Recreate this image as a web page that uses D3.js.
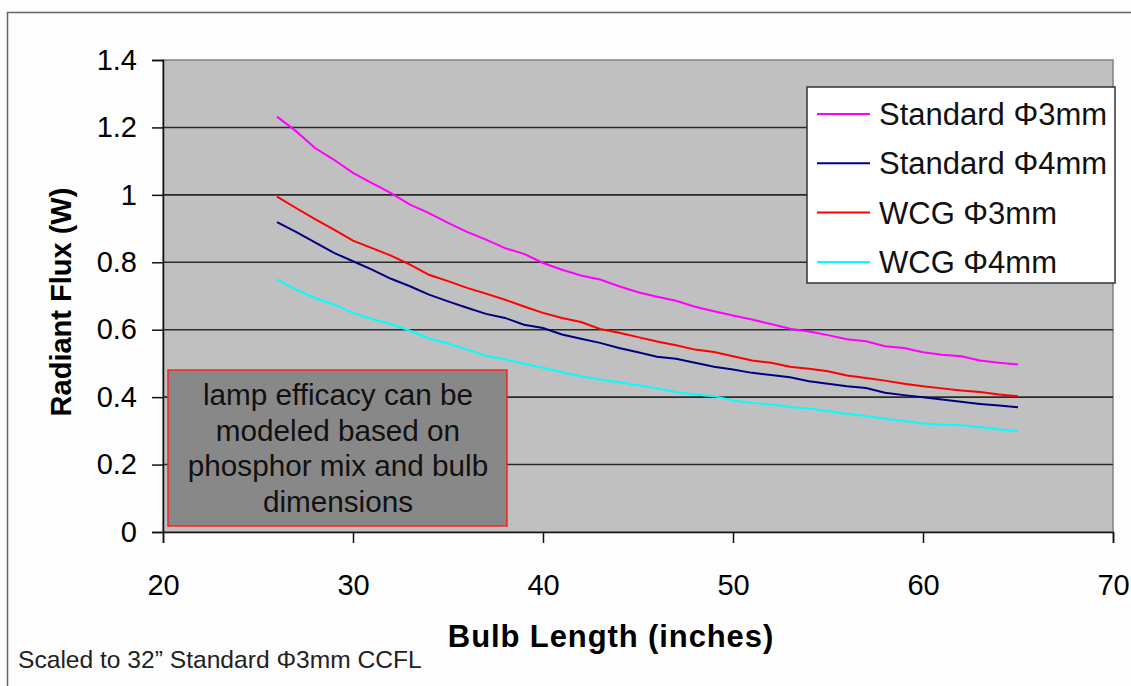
<!DOCTYPE html>
<html>
<head>
<meta charset="utf-8">
<script src="https://cdn.jsdelivr.net/npm/d3@7"></script>
<style>
  body { margin: 0; background: #fdfdfd; }
  svg { display: block; font-family: "Liberation Sans", Arial, sans-serif; }
</style>
</head>
<body>
<div id="flux_chart"></div>
<script>
// bulb lengths (inches) and radiant flux (W) for each lamp type
var lengths = [26,27,28,29,30,31,32,33,34,35,36,37,38,39,40,41,42,43,44,45,
               46,47,48,49,50,51,52,53,54,55,56,57,58,59,60,61,62,63,64,65];
var std3mm = [1.232,1.189,1.139,1.104,1.065,1.035,1.005,0.971,0.946,0.917,0.890,0.867,0.842,0.825,0.798,0.778,0.761,0.749,0.729,0.711,
              0.698,0.686,0.668,0.655,0.642,0.630,0.617,0.603,0.595,0.584,0.572,0.566,0.551,0.546,0.533,0.526,0.521,0.509,0.502,0.497];
var std4mm = [0.919,0.890,0.859,0.828,0.803,0.778,0.751,0.729,0.704,0.684,0.665,0.647,0.635,0.615,0.605,0.586,0.573,0.561,0.546,0.533,
              0.520,0.514,0.502,0.490,0.482,0.472,0.466,0.459,0.447,0.440,0.432,0.427,0.413,0.406,0.400,0.393,0.386,0.380,0.375,0.370];
var wcg3mm = [0.995,0.961,0.928,0.897,0.864,0.842,0.820,0.793,0.763,0.744,0.724,0.707,0.689,0.669,0.650,0.635,0.623,0.602,0.591,0.578,
              0.565,0.554,0.541,0.534,0.521,0.509,0.502,0.490,0.484,0.477,0.464,0.457,0.449,0.440,0.432,0.426,0.420,0.415,0.408,0.403];
var wcg4mm = [0.749,0.719,0.694,0.675,0.650,0.632,0.617,0.597,0.574,0.559,0.541,0.523,0.512,0.499,0.487,0.474,0.462,0.452,0.444,0.435,
              0.426,0.415,0.408,0.403,0.390,0.383,0.378,0.371,0.366,0.358,0.351,0.344,0.336,0.329,0.322,0.319,0.317,0.311,0.304,0.299];
var seriesNames = ["Standard \u03a63mm", "Standard \u03a64mm", "WCG \u03a63mm", "WCG \u03a64mm"];
var seriesColors = ["#ff00ff", "#000080", "#ff0000", "#00ffff"];
var xTicks = [20, 30, 40, 50, 60, 70];
var yTicks = [0, 0.2, 0.4, 0.6, 0.8, 1, 1.2, 1.4];
var noteLines = ["lamp efficacy can be", "modeled based on", "phosphor mix and bulb", "dimensions"];
var footnote = "Scaled to 32\u201d Standard \u03a63mm CCFL";

var allSeries = [std3mm, std4mm, wcg3mm, wcg4mm];

// set the dimensions and margins of the graph
var margin = {top: 60, right: 18, bottom: 154, left: 163},
    width = 1131 - margin.left - margin.right,
    height = 686 - margin.top - margin.bottom;

var root = d3.select("#flux_chart")
  .append("svg")
    .attr("width", 1131)
    .attr("height", 686);

// outer chart frame
root.append("rect")
    .attr("x", 7.5).attr("y", 12.5)
    .attr("width", 1140).attr("height", 700)
    .style("fill", "#fdfdfd")
    .style("stroke", "#666")
    .style("stroke-width", 1.5);

var svg = root.append("g")
    .attr("transform", "translate(" + margin.left + "," + margin.top + ")");

var x = d3.scaleLinear()
    .domain([20, 70])
    .range([0, width]);

var y = d3.scaleLinear()
    .domain([0, 1.4])
    .range([height, 0]);

// plot area
svg.append("rect")
    .attr("width", width)
    .attr("height", height)
    .style("fill", "#c0c0c0")
    .style("stroke", "#808080")
    .style("stroke-width", 1.5);

// gridlines
svg.selectAll(".grid")
    .data(yTicks.filter(function(d) { return d > 0 && d < 1.4; }))
    .enter()
    .append("line")
      .attr("x1", 0).attr("x2", width)
      .attr("y1", function(d) { return y(d); })
      .attr("y2", function(d) { return y(d); })
      .style("stroke", "#2a2a2a")
      .style("stroke-width", 1.6);

// Y axis
var yAxis = svg.append("g")
    .call(d3.axisLeft(y).tickValues(yTicks).tickSize(11).tickPadding(15)
      .tickFormat(function(d) { return d3.format("")(+d.toFixed(1)); }));
yAxis.selectAll("text")
    .style("font-size", "29px")
    .style("fill", "#000")
    .style("font-family", "Liberation Sans, Arial, sans-serif");

// X axis
var xAxis = svg.append("g")
    .attr("transform", "translate(0," + height + ")")
    .call(d3.axisBottom(x).tickValues(xTicks).tickSize(11).tickPadding(31));
xAxis.selectAll("text")
    .style("font-size", "29px")
    .style("fill", "#000")
    .style("font-family", "Liberation Sans, Arial, sans-serif");

[yAxis, xAxis].forEach(function(a) {
  a.select(".domain").style("stroke", "#111").style("stroke-width", 1.5);
  a.selectAll(".tick line").style("stroke", "#111").style("stroke-width", 1.5);
});

// axis titles
svg.append("text")
    .attr("x", 611 - margin.left)
    .attr("y", height + 115)
    .style("text-anchor", "middle")
    .style("font-size", "31px")
    .style("font-weight", "bold")
    .style("letter-spacing", "0.9px")
    .text("Bulb Length (inches)");

svg.append("text")
    .attr("transform", "rotate(-90)")
    .attr("x", -(302 - margin.top))
    .attr("y", 71 - margin.left)
    .style("text-anchor", "middle")
    .style("font-size", "29px")
    .style("font-weight", "bold")
    .text("Radiant Flux (W)");

// note box
var note = svg.append("g")
    .attr("transform", "translate(5,310)");
note.append("rect")
    .attr("width", 339)
    .attr("height", 156)
    .style("fill", "#888888")
    .style("stroke", "#ff2020")
    .style("stroke-width", 1.5);
note.selectAll("text")
    .data(noteLines)
    .enter()
    .append("text")
      .attr("x", 170)
      .attr("y", function(d, i) { return 35 + i * 35.5; })
      .style("text-anchor", "middle")
      .style("font-size", "29.7px")
      .style("fill", "#111")
      .text(function(d) { return d; });

// lines
var line = d3.line()
    .x(function(d, i) { return x(lengths[i]); })
    .y(function(d) { return y(d); });

svg.selectAll(".series")
    .data(allSeries)
    .enter()
    .append("path")
      .attr("d", function(d) { return line(d); })
      .style("fill", "none")
      .style("stroke", function(d, i) { return seriesColors[i]; })
      .style("stroke-width", 2);

// legend
var legend = svg.append("g")
    .attr("transform", "translate(" + (807 - margin.left) + "," + (87 - margin.top) + ")");
legend.append("rect")
    .attr("width", 308)
    .attr("height", 196)
    .style("fill", "#fff")
    .style("stroke", "#333")
    .style("stroke-width", 1.5);
var items = legend.selectAll(".item")
    .data(seriesNames)
    .enter()
    .append("g")
      .attr("transform", function(d, i) { return "translate(0," + (27 + i * 49.3) + ")"; });
items.append("line")
    .attr("x1", 10).attr("x2", 63)
    .style("stroke", function(d, i) { return seriesColors[i]; })
    .style("stroke-width", 2);
items.append("text")
    .attr("x", 72)
    .attr("y", 11)
    .style("font-size", "31px")
    .style("fill", "#111")
    .text(function(d) { return d; });

// footnote
root.append("text")
    .attr("x", 18)
    .attr("y", 668)
    .style("font-size", "24.6px")
    .style("fill", "#222")
    .text(footnote);
</script>
</body>
</html>
